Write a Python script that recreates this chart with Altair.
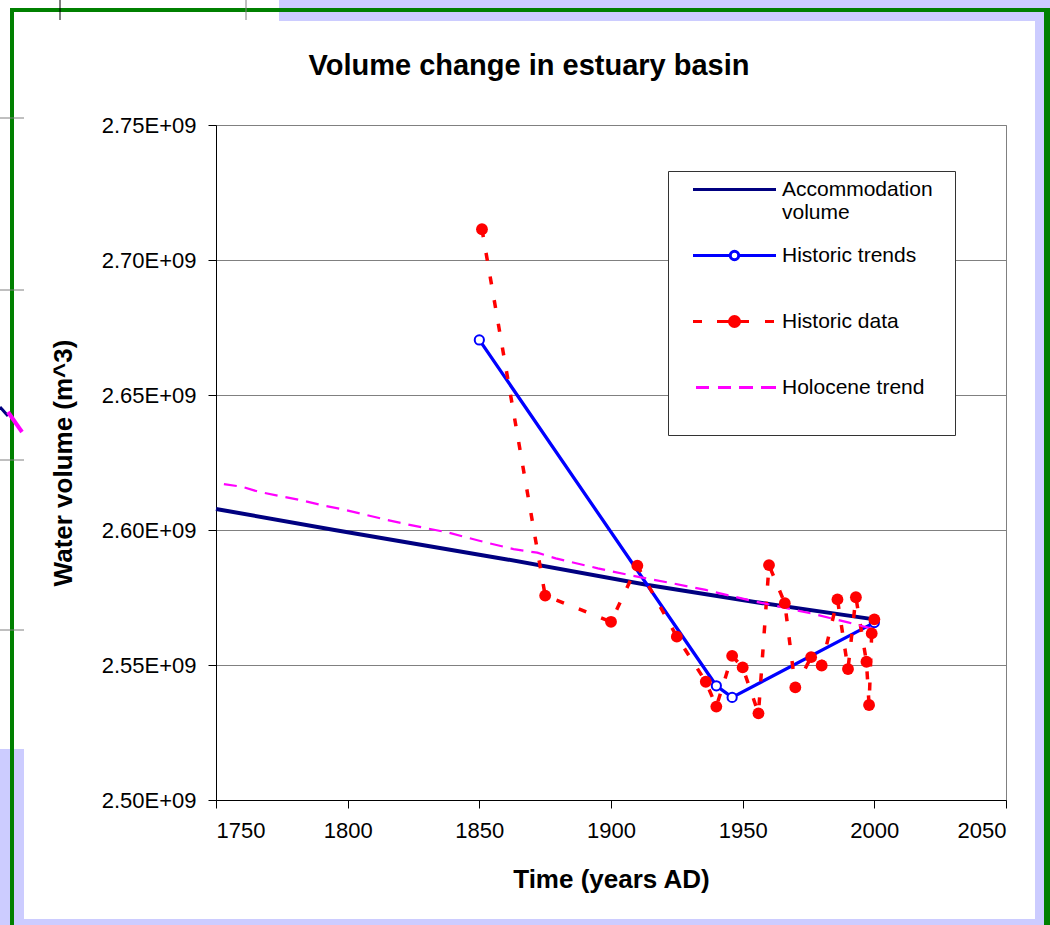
import altair as alt
import pandas as pd

# ---------------- data ----------------
SERIES = ["Accommodation volume", "Historic trends", "Historic data", "Holocene trend"]

acc_years = [1750, 1795, 1860, 1914, 1954, 2000]
acc_vol = [2.6078e9, 2.6000e9, 2.5892e9, 2.5796e9, 2.5734e9, 2.5669e9]

trend_years = [1850, 1940, 1946, 2000]
trend_vol = [2.6704e9, 2.5423e9, 2.5380e9, 2.5657e9]

data_years = [1851, 1875, 1900, 1910, 1925, 1936, 1940, 1946, 1950, 1956, 1960,
              1966, 1970, 1976, 1980, 1986, 1990, 1993, 1997, 1998, 1999, 2000]
data_vol = [2.7114e9, 2.5757e9, 2.5660e9, 2.5868e9, 2.5605e9, 2.5438e9, 2.5346e9,
            2.5534e9, 2.5491e9, 2.5321e9, 2.5870e9, 2.5729e9, 2.5417e9, 2.5529e9,
            2.5498e9, 2.5743e9, 2.5485e9, 2.5751e9, 2.5512e9, 2.5352e9, 2.5617e9,
            2.5669e9]

holo_years = [1753, 1760, 1766, 1774, 1782, 1791, 1798, 1807, 1815, 1825, 1838, 1850,
              1863, 1872, 1879, 1895, 1907, 1922, 1936, 1952, 1964, 1976, 1990, 2000]
holo_vol = [2.6170e9, 2.6160e9, 2.6142e9, 2.6126e9, 2.6111e9, 2.6090e9, 2.6077e9,
            2.6056e9, 2.6037e9, 2.6016e9, 2.5991e9, 2.5960e9, 2.5929e9, 2.5916e9,
            2.5895e9, 2.5858e9, 2.5833e9, 2.5805e9, 2.5778e9, 2.5741e9, 2.5716e9,
            2.5691e9, 2.5658e9, 2.5632e9]

x_ticks = [1750, 1800, 1850, 1900, 1950, 2000, 2050]
y_ticks = [2.50e9, 2.55e9, 2.60e9, 2.65e9, 2.70e9, 2.75e9]

TITLE = "Volume change in estuary basin"
X_TITLE = "Time (years AD)"
Y_TITLE = "Water volume (m^3)"

# ---------------- styling ----------------
FONT = "Liberation Sans"
NAVY, BLUE, RED, MAGENTA = "#000080", "#0000FF", "#FF0000", "#FF00FF"
W, H = 790, 675

acc_df = pd.DataFrame({"year": acc_years, "vol": acc_vol})
trend_df = pd.DataFrame({"year": trend_years, "vol": trend_vol})
data_df = pd.DataFrame({"year": data_years, "vol": data_vol})
holo_df = pd.DataFrame({"year": holo_years, "vol": holo_vol})

xs = alt.Scale(domain=[1750, 2050], nice=False, zero=False)
ys = alt.Scale(domain=[2.5e9, 2.75e9], nice=False, zero=False)

X = alt.X("year:Q", scale=xs, axis=alt.Axis(
    values=x_ticks, format="d", title=X_TITLE, grid=False,
    titleY=87, titleBaseline="alphabetic"))
Y = alt.Y("vol:Q", scale=ys, axis=alt.Axis(
    values=y_ticks, labelExpr="format(datum.value / 1e9, '.2f') + 'E+09'",
    title=Y_TITLE, grid=True, titleX=-144.5, titleBaseline="alphabetic"))

# legend symbols (custom paths, 1 unit = 10 px)
def seg(a, b):
    return f"M{a},0H{b}"
def circ(r):
    return f"M{r},0A{r},{r} 0 1,1 {-r},0A{r},{r} 0 1,1 {r},0Z"

sym_acc = seg(-4.15, 4.15)
sym_trend = seg(-4.15, -0.45) + seg(0.45, 4.15) + circ(0.42)
sym_data = seg(-4.15, -3.25) + seg(-1.75, -0.5) + seg(0.5, 1.45) + seg(3.05, 3.95) + circ(0.5)
sym_holo = seg(-3.85, -2.55) + seg(-1.65, -0.35) + seg(0.45, 1.85) + seg(2.65, 4.15)

LEG = alt.Legend(
    title=None,
    labelExpr=("datum.label == 'Accommodation volume' ? ['Accommodation', 'volume']"
               " : [datum.label, '']"),
)

one = pd.DataFrame({"d": [0]})

def deco_rect(x, x2, y, y2, color, stroke=None):
    kw = {"color": color}
    if stroke:
        kw = {"fill": color, "stroke": stroke, "strokeWidth": 1}
    return alt.Chart(one).mark_rect(**kw).encode(
        x=alt.value(x), x2=alt.value(x2), y=alt.value(y), y2=alt.value(y2))

def deco_rule(x, x2, y, y2, color, w=1):
    return alt.Chart(one).mark_rule(color=color, strokeWidth=w).encode(
        x=alt.value(x), x2=alt.value(x2), y=alt.value(y), y2=alt.value(y2))

LAV = "#ccccff"
GREEN = "#008000"
deco = [
    deco_rect(63, 834, -125, -104, LAV),
    deco_rect(819, 834, -125, 800, LAV),
    deco_rect(-216, 834, 794, 800, LAV),
    deco_rect(-216, -192, 624, 800, LAV),
    deco_rect(-206, 834, -117, -113, GREEN),
    deco_rect(-206, -202, -117, 800, GREEN),
    deco_rect(828, 834, -117, 800, GREEN),
    deco_rule(-156, -156, -125, -105, "#000000"),
    deco_rule(30, 30, -125, -105, "#808080"),
    deco_rule(-216, -192, -7, -7, "#808080"),
    deco_rule(-216, -192, 165, 165, "#808080"),
    deco_rule(-216, -192, 335, 335, "#808080"),
    deco_rule(-216, -192, 505, 505, "#808080"),
    deco_rule(-216, -208, 282, 291, NAVY, 3),
    deco_rule(-208, -194, 287, 307, MAGENTA, 4),
]
# legend frame (opaque box behind the legend entries)
legend_box = deco_rect(452.5, 739.5, 46.5, 310.5, "#ffffff", stroke="#333333")

acc_line = alt.Chart(acc_df).mark_line(color=NAVY, strokeWidth=4).encode(x=X, y=Y)
trend_line = alt.Chart(trend_df).mark_line(color=BLUE, strokeWidth=3.3).encode(x=X, y=Y)
trend_pts = alt.Chart(trend_df).mark_point(
    shape="circle", filled=False, fill="#ffffff", stroke=BLUE, strokeWidth=2,
    size=85, opacity=1).encode(x=X, y=Y)
data_line = alt.Chart(data_df).mark_line(
    color=RED, strokeWidth=3.5, strokeDash=[8, 16]).encode(x=X, y=Y)
data_pts = alt.Chart(data_df).mark_circle(color=RED, size=140, opacity=1).encode(x=X, y=Y)
holo_line = alt.Chart(holo_df).mark_line(
    color=MAGENTA, strokeWidth=2.2, strokeDash=[13, 8]).encode(x=X, y=Y)

legend_df = pd.DataFrame({"series": SERIES,
                          "year": [acc_years[0], trend_years[0], data_years[0], holo_years[0]],
                          "vol": [acc_vol[0], trend_vol[0], data_vol[0], holo_vol[0]]})
legend_layer = alt.Chart(legend_df).transform_filter("false").mark_point(opacity=1).encode(
    x=X, y=Y,
    shape=alt.Shape("series:N", scale=alt.Scale(domain=SERIES,
                    range=[sym_acc, sym_trend, sym_data, sym_holo]), legend=LEG),
    stroke=alt.Stroke("series:N", scale=alt.Scale(domain=SERIES,
                      range=[NAVY, BLUE, RED, MAGENTA]), legend=LEG),
    fill=alt.Fill("series:N", scale=alt.Scale(domain=SERIES,
                  range=["#ffffff", "#ffffff", RED, "#ffffff"]), legend=LEG),
)

chart = alt.layer(
    *deco, acc_line, trend_line, data_line, holo_line, trend_pts, data_pts,
    legend_box, legend_layer
).properties(
    width=W, height=H,
    title=alt.Title(TITLE, font=FONT, fontSize=29, fontWeight="bold", color="#000000",
                    anchor="middle", frame="group", dx=-82, offset=0, dy=104,
                    baseline="alphabetic"),
    padding={"left": 216, "top": 125, "right": 44, "bottom": 125},
    autosize=alt.AutoSizeParams(type="none"),
).configure(
    background="#ffffff",
).configure_view(
    stroke="#808080", strokeWidth=1, fill="#ffffff",
).configure_axis(
    labelFont=FONT, labelFontSize=22, labelColor="#000000",
    titleFont=FONT, titleFontSize=26, titleFontWeight="bold", titleColor="#000000",
    domainColor="#000000", domainWidth=1, tickColor="#000000", tickSize=8, tickWidth=1,
    gridColor="#808080", gridWidth=1, labelPadding=12,
).configure_axisX(
    labelPadding=12,
).configure_legend(
    orient="none", legendX=459, legendY=53, padding=0,
    fillColor="transparent", strokeColor="transparent", strokeWidth=0,
    labelFont=FONT, labelFontSize=21, labelColor="#000000", labelLimit=500,
    symbolSize=400, symbolStrokeWidth=3, symbolOffset=48, labelOffset=36,
    symbolOpacity=1, rowPadding=21,
)

chart.save("out.html", embed_options={"renderer": "svg", "actions": False})
